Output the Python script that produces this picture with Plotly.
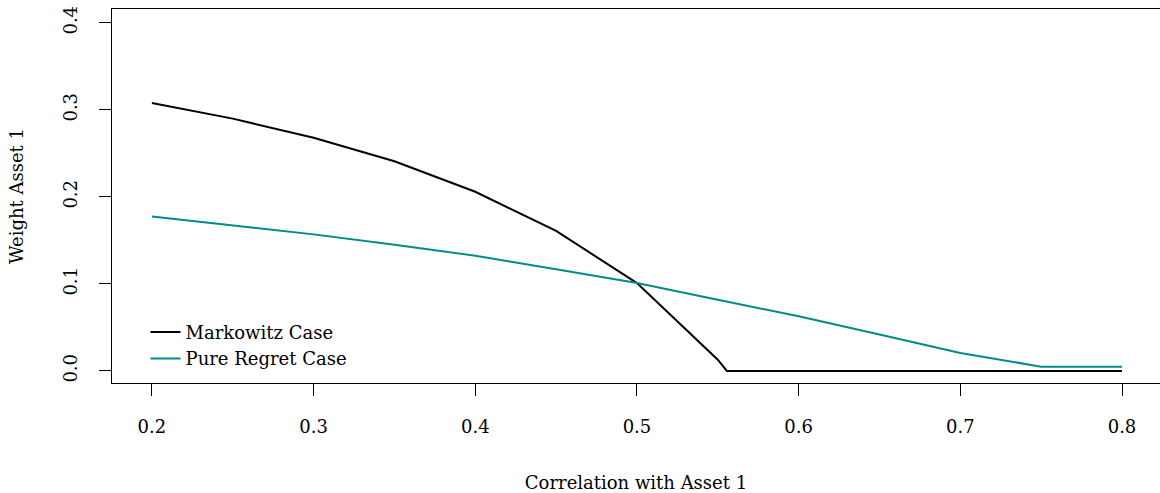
import plotly.graph_objects as go

corr_markowitz = [0.2, 0.25, 0.3, 0.35, 0.4, 0.45, 0.5, 0.55, 0.5556, 0.6, 0.65, 0.7, 0.75, 0.8]
w_markowitz = [0.308, 0.290, 0.268, 0.241, 0.206, 0.161, 0.101, 0.013, 0.0, 0.0, 0.0, 0.0, 0.0, 0.0]

corr_regret = [0.2, 0.25, 0.3, 0.35, 0.4, 0.45, 0.5, 0.55, 0.6, 0.65, 0.7, 0.75, 0.8]
w_regret = [0.1775, 0.1675, 0.157, 0.1452, 0.1325, 0.117, 0.101, 0.0818, 0.063, 0.042, 0.0207, 0.005, 0.005]

x_ticks = [0.2, 0.3, 0.4, 0.5, 0.6, 0.7, 0.8]
x_ticklabels = ["0.2", "0.3", "0.4", "0.5", "0.6", "0.7", "0.8"]
y_ticks = [0.0, 0.1, 0.2, 0.3, 0.4]
y_ticklabels = ["0.0", "0.1", "0.2", "0.3", "0.4"]

FONT = "DejaVu Serif"
FS = 18

fig = go.Figure()
fig.add_trace(go.Scatter(x=corr_markowitz, y=w_markowitz, mode="lines",
                         name="Markowitz Case", line=dict(color="black", width=2)))
fig.add_trace(go.Scatter(x=corr_regret, y=w_regret, mode="lines",
                         name="Pure Regret Case", line=dict(color="#008B8B", width=2)))

fig.update_layout(
    width=1160, height=493,
    margin=dict(l=112, r=0, t=9, b=110),
    paper_bgcolor="white", plot_bgcolor="white",
    font=dict(family=FONT, size=FS, color="black"),
    showlegend=True,
    legend=dict(x=0.032, y=0.185, xanchor="left", yanchor="top",
                bgcolor="rgba(0,0,0,0)", font=dict(family=FONT, size=FS),
                tracegroupgap=0),
)
fig.update_xaxes(
    range=[0.1753, 0.8235], tickvals=x_ticks, ticktext=x_ticklabels,
    showgrid=False, zeroline=False, showline=True, linecolor="black", linewidth=1,
    mirror=True, ticks="outside", ticklen=12, tickcolor="black",
    ticklabelstandoff=15,
    title=dict(text="Correlation with Asset 1", standoff=40, font=dict(family=FONT, size=FS)),
)
fig.update_yaxes(
    range=[-0.0138, 0.416], tickvals=y_ticks, ticktext=y_ticklabels,
    showgrid=False, zeroline=False, showline=True, linecolor="black", linewidth=1,
    mirror=False, ticks="outside", ticklen=12, tickcolor="black", tickangle=-90,
    ticklabelstandoff=15,
    title=dict(text="Weight Asset 1", standoff=31, font=dict(family=FONT, size=FS)),
)

fig.write_html("out.html")
